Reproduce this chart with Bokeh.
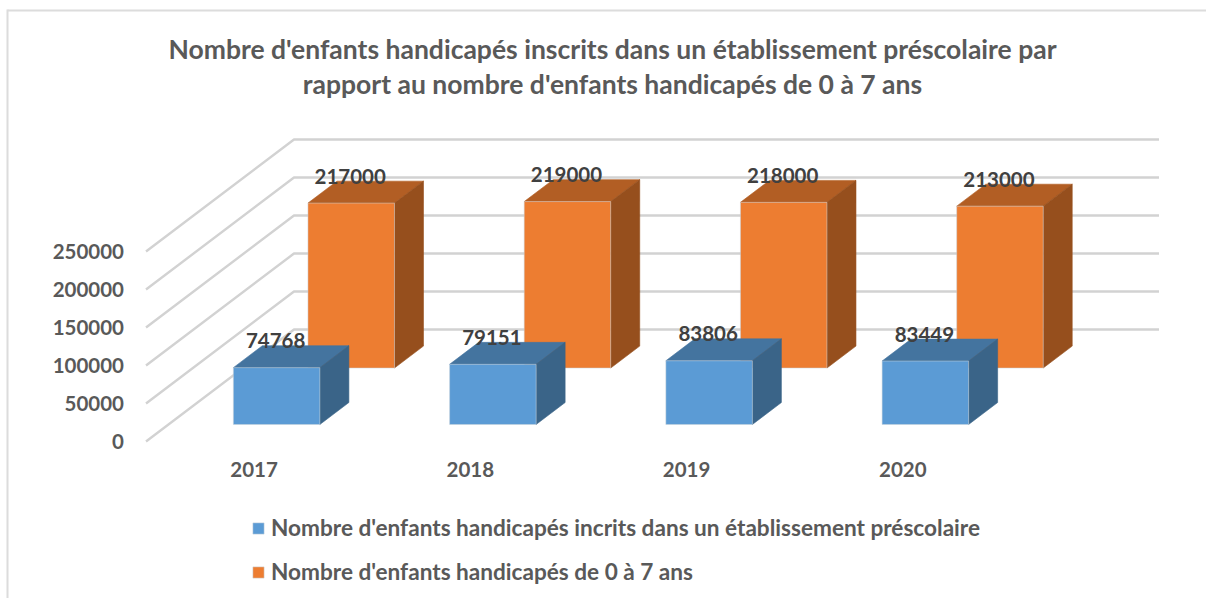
from bokeh.plotting import figure
from bokeh.embed import file_html
from bokeh.resources import INLINE
from bokeh.models import Range1d, FixedTicker, Label, Legend, LegendItem, BoxAnnotation, ColumnDataSource
from bokeh.core.properties import value

years = ["2017", "2018", "2019", "2020"]
inscrits = [74768, 79151, 83806, 83449]
total = [217000, 219000, 218000, 213000]
ticks = [0, 50000, 100000, 150000, 200000, 250000]
title_lines = ["Nombre d'enfants handicapés inscrits dans un établissement préscolaire par",
               "rapport au nombre d'enfants handicapés de 0 à 7 ans"]
names = ["Nombre d'enfants handicapés incrits dans un établissement préscolaire",
         "Nombre d'enfants handicapés de 0 à 7 ans"]

FONT = "Lato"
W, H = 1206, 598
X0, Y0 = 145.5, 441   # where the front-left floor corner lies on the canvas
CAT = 216.25          # px per category
VPX = 38 / 50000      # px per value unit
DX, DY = 148 / CAT, 112 / VPX   # full depth in data units
BAR = 0.4
DEPTH = 0.196

p = figure(width=W, height=H, output_backend="svg", toolbar_location=None,
           x_range=Range1d(-X0 / CAT, (W - X0) / CAT),
           y_range=Range1d(-(H - Y0) / VPX, Y0 / VPX),
           min_border_left=0, min_border_top=0, min_border_right=0, min_border_bottom=0,
           background_fill_color="white", border_fill_color="white")
p.outline_line_color = None
p.grid.visible = False


def proj(x, v, t):
    return x + DX * t, v + DY * t


GRID = "#d2d2d2"
for v in ticks:
    a, b = proj(0, v, 0), proj(0, v, 1)
    c = proj(4, v, 1)
    p.line([a[0], b[0], c[0]], [a[1], b[1], c[1]], line_color=GRID, line_width=2.4, line_join="round")


def bar(i, val, t0, front, top, side):
    x0, x1 = i + 0.5 - BAR / 2, i + 0.5 + BAR / 2
    t1 = t0 + DEPTH
    def q(pts):
        P = [proj(*a) for a in pts]
        return [a[0] for a in P], [a[1] for a in P]
    xs, ys = q([(x0, val, t0), (x1, val, t0), (x1, val, t1), (x0, val, t1)])
    p.patch(xs, ys, fill_color=top, line_color=top, line_width=0.6)
    xs, ys = q([(x1, 0, t0), (x1, val, t0), (x1, val, t1), (x1, 0, t1)])
    p.patch(xs, ys, fill_color=side, line_color=side, line_width=0.6)
    xs, ys = q([(x0, 0, t0), (x1, 0, t0), (x1, val, t0), (x0, val, t0)])
    return p.patch(xs, ys, fill_color=front, line_color="#c9d3dc", line_width=1, line_alpha=0.5)


T_BLUE, T_ORANGE = 0.152, 0.656
r_orange = None
for i, v in enumerate(total):
    r_orange = bar(i, v, T_ORANGE, "#ed7d31", "#b25e24", "#964f1d")
r_blue = None
for i, v in enumerate(inscrits):
    r_blue = bar(i, v, T_BLUE, "#5b9bd5", "#44749f", "#3a6488")

for vals, t0 in ((total, T_ORANGE), (inscrits, T_BLUE)):
    pts = [proj(i + 0.5, v, t0) for i, v in enumerate(vals)]
    src = ColumnDataSource(dict(x=[a[0] for a in pts], y=[a[1] for a in pts], t=[str(v) for v in vals]))
    p.text("x", "y", text="t", source=src, text_font=value(FONT), text_font_style="bold",
           text_font_size="20.5px", text_color="#404040", text_align="center",
           text_baseline="middle", x_offset=-1, y_offset=-27)

ya = p.yaxis[0]
ya.fixed_location = 0
ya.ticker = FixedTicker(ticks=ticks)
ya.major_label_overrides = {v: str(v) for v in ticks}
ya.axis_line_color = None
ya.major_tick_line_color = None
ya.minor_tick_line_color = None
ya.major_label_standoff = 16
ya.major_label_text_font = FONT
ya.major_label_text_font_style = "bold"
ya.major_label_text_font_size = "20.5px"
ya.major_label_text_color = "#595959"

xa = p.xaxis[0]
xa.fixed_location = 0
xa.ticker = FixedTicker(ticks=[i + 0.5 for i in range(len(years))])
xa.major_label_overrides = {i + 0.5: y for i, y in enumerate(years)}
xa.axis_line_color = None
xa.major_tick_line_color = None
xa.minor_tick_line_color = None
xa.major_label_standoff = 14
xa.major_label_text_font = FONT
xa.major_label_text_font_style = "bold"
xa.major_label_text_font_size = "20.5px"
xa.major_label_text_color = "#595959"

for line, y in zip(title_lines, (48, 83)):
    p.add_layout(Label(x=612, y=y, x_units="canvas", y_units="canvas", text=line,
                       text_align="center", text_baseline="middle", text_font=FONT,
                       text_font_style="bold", text_font_size="26.5px", text_color="#595959"))

p.add_layout(BoxAnnotation(left=7, right=W, top=9, bottom=11, left_units="canvas", right_units="canvas",
                           top_units="canvas", bottom_units="canvas", fill_color="#dcdcdc", fill_alpha=1,
                           line_color=None))
p.add_layout(BoxAnnotation(left=6, right=8, top=9, bottom=H, left_units="canvas", right_units="canvas",
                           top_units="canvas", bottom_units="canvas", fill_color="#dcdcdc", fill_alpha=1,
                           line_color=None))

leg = Legend(items=[LegendItem(label=names[0], renderers=[r_blue]),
                    LegendItem(label=names[1], renderers=[r_orange])],
             location=(251, 13), orientation="vertical",
             border_line_color=None, background_fill_alpha=0, padding=0, margin=0,
             glyph_width=14, glyph_height=14, label_standoff=6, label_height=20, spacing=17,
             label_text_font=FONT, label_text_font_style="bold", label_text_font_size="22.6px",
             label_text_color="#595959")
p.add_layout(leg)

open("out.html", "w").write(file_html(p, INLINE))
